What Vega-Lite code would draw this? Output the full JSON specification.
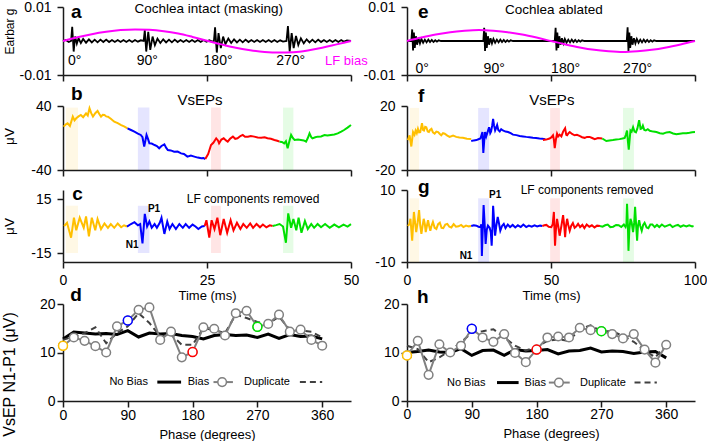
{
"$schema": "https://vega.github.io/schema/vega-lite/v6.json",
"background": "white",
"padding": {"left": 0, "top": 0, "right": 0, "bottom": 0},
"data": {"values": [{"k": 1}]},
"datasets": {
"ea": [{"t":0,"v":0},{"t":0.5,"v":0.0003},{"t":1.0,"v":-0.0003},{"t":1.4,"v":0},{"t":1.6,"v":0.0042},{"t":1.85,"v":-0.0031},{"t":2.1,"v":0.0013},{"t":2.4,"v":-0.0008},{"t":2.7,"v":0.0008},{"t":3.1,"v":-0.0006},{"t":3.5,"v":0.0006},{"t":4.0,"v":-0.0005},{"t":4.5,"v":0.0005},{"t":5.0,"v":-0.0004},{"t":5.5,"v":0.0004},{"t":6.0,"v":-0.0004},{"t":6.5,"v":0.0004},{"t":7.0,"v":-0.0003},{"t":7.5,"v":0.0004},{"t":8.0,"v":-0.0003},{"t":8.5,"v":0.0003},{"t":9.0,"v":-0.0003},{"t":9.5,"v":0.0003},{"t":10.0,"v":-0.0003},{"t":10.5,"v":0.0003},{"t":11.0,"v":-0.0003},{"t":11.5,"v":0.0003},{"t":12.0,"v":-0.0003},{"t":12.5,"v":0.0003},{"t":13.0,"v":-0.0002},{"t":13.5,"v":0.0002},{"t":14.0,"v":0},
{"t":14.2,"v":0.0032},{"t":14.45,"v":-0.0031},{"t":14.8,"v":0.0027},{"t":15.15,"v":-0.0026},{"t":15.55,"v":0.0013},{"t":15.95,"v":-0.0012},{"t":16.4,"v":0.0007},{"t":16.9,"v":-0.0006},{"t":17.4,"v":0.0005},{"t":17.9,"v":-0.0004},{"t":18.4,"v":0.0004},{"t":18.9,"v":-0.0004},{"t":19.4,"v":0.0004},{"t":19.9,"v":-0.0003},{"t":20.4,"v":0.0003},{"t":20.9,"v":-0.0003},{"t":21.4,"v":0.0003},{"t":21.9,"v":-0.0003},{"t":22.4,"v":0.0003},{"t":22.9,"v":-0.0003},{"t":23.4,"v":0.0003},{"t":23.9,"v":-0.0003},{"t":24.4,"v":0.0003},{"t":24.9,"v":-0.0002},{"t":25.4,"v":0.0002},{"t":25.9,"v":-0.0002},{"t":26.2,"v":0},
{"t":26.4,"v":0.004},{"t":26.7,"v":-0.0034},{"t":27.0,"v":0.0023},{"t":27.4,"v":-0.0021},{"t":27.8,"v":0.0013},{"t":28.2,"v":-0.0009},{"t":28.7,"v":0.0007},{"t":29.2,"v":-0.0006},{"t":29.7,"v":0.0005},{"t":30.2,"v":-0.0004},{"t":30.7,"v":0.0004},{"t":31.2,"v":-0.0004},{"t":31.7,"v":0.0004},{"t":32.2,"v":-0.0003},{"t":32.7,"v":0.0003},{"t":33.2,"v":-0.0003},{"t":33.7,"v":0.0003},{"t":34.2,"v":-0.0003},{"t":34.7,"v":0.0003},{"t":35.2,"v":-0.0003},{"t":35.7,"v":0.0003},{"t":36.2,"v":-0.0003},{"t":36.7,"v":0.0003},{"t":37.2,"v":-0.0003},{"t":37.7,"v":0.0002},{"t":38.2,"v":-0.0002},{"t":38.8,"v":0},
{"t":39.05,"v":0.0044},{"t":39.35,"v":-0.0031},{"t":39.7,"v":0.0023},{"t":40.05,"v":-0.0021},{"t":40.45,"v":0.0015},{"t":40.85,"v":-0.0012},{"t":41.3,"v":0.0008},{"t":41.8,"v":-0.0007},{"t":42.3,"v":0.0005},{"t":42.8,"v":-0.0004},{"t":43.3,"v":0.0004},{"t":43.8,"v":-0.0004},{"t":44.3,"v":0.0004},{"t":44.8,"v":-0.0003},{"t":45.3,"v":0.0003},{"t":45.8,"v":-0.0003},{"t":46.3,"v":0.0003},{"t":46.8,"v":-0.0003},{"t":47.3,"v":0.0003},{"t":47.8,"v":-0.0003},{"t":48.3,"v":0.0003},{"t":48.8,"v":-0.0002},{"t":49.3,"v":0.0002},{"t":50,"v":0}],
"ee": [{"t":0,"v":0},{"t":1.5,"v":0},{"t":1.8,"v":0.0034},{"t":2.1,"v":-0.0028},{"t":2.4,"v":0.0025},{"t":2.7,"v":-0.002},{"t":3.1,"v":0.0014},{"t":3.5,"v":-0.0011},{"t":4.0,"v":0.0008},{"t":4.5,"v":-0.0007},{"t":5.0,"v":0.0006},{"t":5.6,"v":-0.0005},{"t":6.2,"v":0.0004},{"t":6.8,"v":-0.0004},{"t":7.4,"v":0.0004},{"t":8.0,"v":-0.0003},{"t":8.6,"v":0.0003},{"t":9.2,"v":-0.0003},{"t":9.8,"v":0.0002},{"t":10.4,"v":-0.0002},{"t":11.0,"v":0.0002},{"t":11.8,"v":0},
{"t":26.5,"v":0},{"t":26.8,"v":0.0039},{"t":27.1,"v":-0.0029},{"t":27.4,"v":0.0025},{"t":27.7,"v":-0.002},{"t":28.1,"v":0.0014},{"t":28.5,"v":-0.0011},{"t":29.0,"v":0.0008},{"t":29.5,"v":-0.0007},{"t":30.0,"v":0.0006},{"t":30.6,"v":-0.0005},{"t":31.2,"v":0.0004},{"t":31.8,"v":-0.0004},{"t":32.4,"v":0.0004},{"t":33.0,"v":-0.0003},{"t":33.6,"v":0.0003},{"t":34.2,"v":-0.0003},{"t":34.8,"v":0.0002},{"t":35.4,"v":-0.0002},{"t":36.0,"v":0.0002},{"t":36.8,"v":0},
{"t":51.3,"v":0},{"t":51.6,"v":0.0039},{"t":51.9,"v":-0.0028},{"t":52.2,"v":0.0025},{"t":52.5,"v":-0.002},{"t":52.9,"v":0.0014},{"t":53.3,"v":-0.0011},{"t":53.8,"v":0.0008},{"t":54.3,"v":-0.0007},{"t":54.8,"v":0.0006},{"t":55.4,"v":-0.0005},{"t":56.0,"v":0.0004},{"t":56.6,"v":-0.0004},{"t":57.2,"v":0.0004},{"t":57.8,"v":-0.0003},{"t":58.4,"v":0.0003},{"t":59.0,"v":-0.0003},{"t":59.6,"v":0.0002},{"t":60.2,"v":-0.0002},{"t":60.8,"v":0.0002},{"t":61.6,"v":0},
{"t":76.3,"v":0},{"t":76.6,"v":0.004},{"t":76.9,"v":-0.003},{"t":77.2,"v":0.0025},{"t":77.5,"v":-0.002},{"t":77.9,"v":0.0014},{"t":78.3,"v":-0.0011},{"t":78.8,"v":0.0008},{"t":79.3,"v":-0.0007},{"t":79.8,"v":0.0006},{"t":80.4,"v":-0.0005},{"t":81.0,"v":0.0004},{"t":81.6,"v":-0.0004},{"t":82.2,"v":0.0004},{"t":82.8,"v":-0.0003},{"t":83.4,"v":0.0003},{"t":84.0,"v":-0.0003},{"t":84.6,"v":0.0002},{"t":85.2,"v":-0.0002},{"t":85.8,"v":0.0002},{"t":86.6,"v":0},{"t":100,"v":0}],
"sa": [{"t":0,"v":0},{"t":2.5,"v":0.0011},{"t":5,"v":0.002},{"t":7.5,"v":0.0027},{"t":10,"v":0.0032},{"t":12.5,"v":0.0034},{"t":15,"v":0.0033},{"t":17.5,"v":0.0029},{"t":20,"v":0.0022},{"t":22.5,"v":0.0012},{"t":25,"v":0.0001},{"t":27.5,"v":-0.001},{"t":30,"v":-0.002},{"t":32.5,"v":-0.0027},{"t":35,"v":-0.0032},{"t":37.5,"v":-0.0034},{"t":40,"v":-0.0033},{"t":42.5,"v":-0.0028},{"t":45,"v":-0.002},{"t":47.5,"v":-0.001},{"t":50,"v":0}],
"se": [{"t":0,"v":0},{"t":5,"v":0.001},{"t":10,"v":0.0019},{"t":15,"v":0.0026},{"t":20,"v":0.003},{"t":25,"v":0.0032},{"t":30,"v":0.003},{"t":35,"v":0.0026},{"t":40,"v":0.0019},{"t":45,"v":0.001},{"t":50,"v":0},{"t":55,"v":-0.001},{"t":60,"v":-0.0019},{"t":65,"v":-0.0026},{"t":70,"v":-0.003},{"t":75,"v":-0.0032},{"t":80,"v":-0.003},{"t":85,"v":-0.0026},{"t":90,"v":-0.0019},{"t":95,"v":-0.001},{"t":100,"v":0}],
"dga": [{"t":1.5,"lab":"0°"},{"t":14.1,"lab":"90°"},{"t":26.4,"lab":"180°"},{"t":39,"lab":"270°"}],
"dge": [{"t":1.8,"lab":"0°"},{"t":26.8,"lab":"90°"},{"t":51.6,"lab":"180°"},{"t":76.6,"lab":"270°"}],
"bl": [{"t1":0.5,"t2":2.6,"s":"o"},{"t1":13,"t2":15,"s":"b"},{"t1":25.7,"t2":27.4,"s":"r"},{"t1":38.2,"t2":40,"s":"g"}],
"br": [{"t1":1,"t2":4.2,"s":"o"},{"t1":24.7,"t2":28.5,"s":"b"},{"t1":49.7,"t2":53.1,"s":"r"},{"t1":75,"t2":78.8,"s":"g"}],
"wb": [{"s":"o","t":0.1,"v":14.2},{"s":"o","t":0.5,"v":17},{"s":"o","t":0.8,"v":18.3},{"s":"o","t":1.2,"v":15},{"s":"o","t":1.7,"v":26.7},{"s":"o","t":2.0,"v":22},{"s":"o","t":2.3,"v":24.6},{"s":"o","t":2.7,"v":27},{"s":"o","t":3.1,"v":28.8},{"s":"o","t":3.5,"v":26},{"s":"o","t":4.0,"v":30.8},{"s":"o","t":4.3,"v":28},{"s":"o","t":4.6,"v":37.1},{"s":"o","t":4.9,"v":31},{"s":"o","t":5.2,"v":26.7},{"s":"o","t":5.6,"v":31},{"s":"o","t":6.0,"v":33.8},{"s":"o","t":6.3,"v":30},{"s":"o","t":6.6,"v":26.7},{"s":"o","t":6.9,"v":29},{"s":"o","t":7.2,"v":28.8},{"s":"o","t":7.5,"v":27},{"s":"o","t":7.8,"v":26.7},{"s":"o","t":8.3,"v":24},{"s":"o","t":8.9,"v":20.4},{"s":"o","t":9.5,"v":18.5},{"s":"o","t":10.1,"v":16.2},{"s":"o","t":10.6,"v":14.5},{"s":"o","t":11.2,"v":12.1},
{"s":"b","t":11.2,"v":12.1},{"s":"b","t":11.8,"v":10},{"s":"b","t":12.4,"v":7.9},{"s":"b","t":13.0,"v":5.5},{"s":"b","t":13.5,"v":3.8},{"s":"b","t":13.8,"v":1},{"s":"b","t":14.1,"v":-10.8},{"s":"b","t":14.5,"v":3.8},{"s":"b","t":14.8,"v":-2},{"s":"b","t":15.0,"v":-6.7},{"s":"b","t":15.4,"v":-7},{"s":"b","t":15.9,"v":-8.8},{"s":"b","t":16.3,"v":-10},{"s":"b","t":16.7,"v":-12.9},{"s":"b","t":17.1,"v":-10},{"s":"b","t":17.6,"v":-7.9},{"s":"b","t":17.9,"v":-12},{"s":"b","t":18.2,"v":-15},{"s":"b","t":18.7,"v":-15.5},{"s":"b","t":19.3,"v":-17.1},{"s":"b","t":19.9,"v":-17},{"s":"b","t":20.5,"v":-19.2},{"s":"b","t":21.0,"v":-20},{"s":"b","t":21.6,"v":-23.3},{"s":"b","t":22.2,"v":-22},{"s":"b","t":22.8,"v":-23.3},{"s":"b","t":23.4,"v":-24.5},{"s":"b","t":24.0,"v":-25.4},{"s":"b","t":24.4,"v":-25},{"s":"b","t":24.7,"v":-26.3},
{"s":"r","t":24.7,"v":-26.3},{"s":"r","t":25.2,"v":-20},{"s":"r","t":25.7,"v":-8.8},{"s":"r","t":26.1,"v":-6},{"s":"r","t":26.6,"v":-0.4},{"s":"r","t":26.9,"v":-3},{"s":"r","t":27.1,"v":-6.7},{"s":"r","t":27.5,"v":-2},{"s":"r","t":27.9,"v":-0.4},{"s":"r","t":28.3,"v":-3},{"s":"r","t":28.6,"v":-4.6},{"s":"r","t":29.0,"v":-1},{"s":"r","t":29.5,"v":1.7},{"s":"r","t":29.9,"v":-1},{"s":"r","t":30.3,"v":-0.4},{"s":"r","t":30.8,"v":2.5},{"s":"r","t":31.2,"v":3.8},{"s":"r","t":31.6,"v":1.5},{"s":"r","t":32.1,"v":1.7},{"s":"r","t":32.6,"v":2.5},{"s":"r","t":33.2,"v":1.7},{"s":"r","t":33.8,"v":0.6},{"s":"r","t":34.4,"v":0.4},{"s":"r","t":35.0,"v":0.8},{"s":"r","t":35.5,"v":-0.4},{"s":"r","t":36.1,"v":-1},{"s":"r","t":36.7,"v":-2.5},{"s":"r","t":37.2,"v":-3.5},{"s":"r","t":37.6,"v":-4.6},
{"s":"g","t":37.6,"v":-4.6},{"s":"g","t":38.0,"v":-5},{"s":"g","t":38.4,"v":-6.7},{"s":"g","t":38.7,"v":-4},{"s":"g","t":39.0,"v":-12.9},{"s":"g","t":39.3,"v":-4},{"s":"g","t":39.6,"v":3.8},{"s":"g","t":39.9,"v":0},{"s":"g","t":40.2,"v":-2.5},{"s":"g","t":40.8,"v":-2},{"s":"g","t":41.3,"v":-2.5},{"s":"g","t":41.8,"v":-3},{"s":"g","t":42.2,"v":-4.6},{"s":"g","t":42.5,"v":0},{"s":"g","t":42.8,"v":5.8},{"s":"g","t":43.1,"v":1},{"s":"g","t":43.3,"v":-0.4},{"s":"g","t":43.8,"v":1},{"s":"g","t":44.2,"v":1.7},{"s":"g","t":44.8,"v":2},{"s":"g","t":45.4,"v":3.8},{"s":"g","t":45.9,"v":3},{"s":"g","t":46.5,"v":3.8},{"s":"g","t":47.1,"v":4.5},{"s":"g","t":47.7,"v":5.8},{"s":"g","t":48.3,"v":8},{"s":"g","t":48.8,"v":10},{"s":"g","t":49.4,"v":13},{"s":"g","t":50,"v":16.2}],
"wc": [{"s":"o","t":0.2,"v":0},{"s":"o","t":0.7,"v":1.8},{"s":"o","t":1.4,"v":-6.5},{"s":"o","t":1.9,"v":4.6},{"s":"o","t":2.3,"v":-2.4},{"s":"o","t":2.9,"v":4.6},{"s":"o","t":3.6,"v":-1},{"s":"o","t":4.0,"v":5.3},{"s":"o","t":4.5,"v":-5.8},{"s":"o","t":5.0,"v":4.6},{"s":"o","t":5.6,"v":-2.4},{"s":"o","t":6.0,"v":3.9},{"s":"o","t":6.6,"v":-1.7},{"s":"o","t":7.2,"v":1.4},{"s":"o","t":7.8,"v":-1},{"s":"o","t":8.3,"v":1.1},{"s":"o","t":8.9,"v":-1},{"s":"o","t":9.5,"v":1.4},{"s":"o","t":10.1,"v":-0.7},{"s":"o","t":10.6,"v":0.4},{"s":"o","t":11.1,"v":-0.3},
{"s":"b","t":11.1,"v":-0.3},{"s":"b","t":11.8,"v":1.1},{"s":"b","t":12.4,"v":2.1},{"s":"b","t":13.0,"v":0.4},{"s":"b","t":13.4,"v":1.1},{"s":"b","t":13.8,"v":-9.7},{"s":"b","t":14.2,"v":6.7},{"s":"b","t":14.6,"v":-0.3},{"s":"b","t":15.0,"v":2.5},{"s":"b","t":15.4,"v":-1},{"s":"b","t":15.9,"v":1.1},{"s":"b","t":16.3,"v":-1},{"s":"b","t":16.8,"v":1.8},{"s":"b","t":17.1,"v":4.6},{"s":"b","t":17.6,"v":-4.4},{"s":"b","t":18.1,"v":2.5},{"s":"b","t":18.5,"v":-1.7},{"s":"b","t":19.0,"v":1.1},{"s":"b","t":19.6,"v":-1.7},{"s":"b","t":20.2,"v":1.1},{"s":"b","t":20.8,"v":-1},{"s":"b","t":21.3,"v":1.1},{"s":"b","t":21.9,"v":-1},{"s":"b","t":22.5,"v":0.8},{"s":"b","t":23.0,"v":-0.3},{"s":"b","t":23.5,"v":-1.7},{"s":"b","t":24.1,"v":-0.3},{"s":"b","t":24.6,"v":0},
{"s":"r","t":24.6,"v":0},{"s":"r","t":24.9,"v":3.2},{"s":"r","t":25.4,"v":-6.5},{"s":"r","t":25.8,"v":3.2},{"s":"r","t":26.3,"v":-1.7},{"s":"r","t":26.8,"v":4.6},{"s":"r","t":27.3,"v":-5.1},{"s":"r","t":27.9,"v":3.9},{"s":"r","t":28.5,"v":-3.8},{"s":"r","t":29.1,"v":3.2},{"s":"r","t":29.6,"v":-2.4},{"s":"r","t":30.2,"v":1.8},{"s":"r","t":30.8,"v":-1.7},{"s":"r","t":31.3,"v":1.1},{"s":"r","t":31.9,"v":-1},{"s":"r","t":32.5,"v":1.4},{"s":"r","t":33.0,"v":-1},{"s":"r","t":33.6,"v":1.1},{"s":"r","t":34.2,"v":-0.7},{"s":"r","t":34.7,"v":0.8},{"s":"r","t":35.3,"v":-0.7},{"s":"r","t":35.9,"v":0.4},{"s":"r","t":36.4,"v":0},
{"s":"g","t":36.4,"v":0},{"s":"g","t":37.0,"v":0.5},{"s":"g","t":37.6,"v":1.1},{"s":"g","t":38.2,"v":-0.3},{"s":"g","t":38.7,"v":-9.3},{"s":"g","t":39.1,"v":7.0},{"s":"g","t":39.6,"v":-1},{"s":"g","t":40.0,"v":3.9},{"s":"g","t":40.5,"v":-2.4},{"s":"g","t":40.9,"v":4.6},{"s":"g","t":41.4,"v":-3.8},{"s":"g","t":42.0,"v":2.8},{"s":"g","t":42.5,"v":-1.7},{"s":"g","t":43.1,"v":1.1},{"s":"g","t":43.6,"v":-1},{"s":"g","t":44.2,"v":1.1},{"s":"g","t":44.8,"v":-0.7},{"s":"g","t":45.5,"v":1.1},{"s":"g","t":46.3,"v":-1},{"s":"g","t":47.1,"v":0.8},{"s":"g","t":47.9,"v":-0.7},{"s":"g","t":48.7,"v":0.8},{"s":"g","t":49.4,"v":-0.3},{"s":"g","t":50,"v":1}],
"wf": [{"s":"o","t":0.3,"v":-1.3},{"s":"o","t":0.9,"v":1.7},{"s":"o","t":1.5,"v":-5.3},{"s":"o","t":2.1,"v":3.7},{"s":"o","t":2.6,"v":2},{"s":"o","t":3.0,"v":4.7},{"s":"o","t":3.4,"v":3},{"s":"o","t":3.8,"v":5.7},{"s":"o","t":4.2,"v":3.5},{"s":"o","t":4.6,"v":3.7},{"s":"o","t":5.2,"v":9.3},{"s":"o","t":5.6,"v":5},{"s":"o","t":5.9,"v":4.7},{"s":"o","t":6.3,"v":7},{"s":"o","t":6.7,"v":6.7},{"s":"o","t":7.2,"v":4},{"s":"o","t":7.6,"v":3.7},{"s":"o","t":8.0,"v":5},{"s":"o","t":8.5,"v":5.7},{"s":"o","t":9.0,"v":3.5},{"s":"o","t":9.6,"v":2.7},{"s":"o","t":10.2,"v":4},{"s":"o","t":10.8,"v":3.7},{"s":"o","t":11.4,"v":2.5},{"s":"o","t":11.9,"v":1.7},{"s":"o","t":12.5,"v":3},{"s":"o","t":13.1,"v":2.7},{"s":"o","t":14.0,"v":1.5},{"s":"o","t":14.8,"v":0.7},{"s":"o","t":16,"v":1.5},{"s":"o","t":17.1,"v":0.7},{"s":"o","t":18.2,"v":0.3},{"s":"o","t":19.4,"v":0.1},{"s":"o","t":20.8,"v":-0.5},{"s":"o","t":22.3,"v":-0.7},
{"s":"b","t":22.3,"v":-1.9},{"s":"b","t":23.2,"v":-1.5},{"s":"b","t":24.1,"v":-1.3},{"s":"b","t":24.8,"v":-0.8},{"s":"b","t":25.5,"v":-0.3},{"s":"b","t":26.2,"v":3.7},{"s":"b","t":26.5,"v":-9.3},{"s":"b","t":26.8,"v":-2},{"s":"b","t":27.1,"v":3.7},{"s":"b","t":27.5,"v":1},{"s":"b","t":27.8,"v":2.7},{"s":"b","t":28.2,"v":5},{"s":"b","t":28.5,"v":6.7},{"s":"b","t":28.9,"v":3},{"s":"b","t":29.2,"v":4.1},{"s":"b","t":29.6,"v":8},{"s":"b","t":29.9,"v":12},{"s":"b","t":30.2,"v":8},{"s":"b","t":30.6,"v":4.7},{"s":"b","t":30.9,"v":6},{"s":"b","t":31.3,"v":8.1},{"s":"b","t":31.7,"v":5},{"s":"b","t":32.2,"v":4.1},{"s":"b","t":32.7,"v":5.5},{"s":"b","t":33.3,"v":4.7},{"s":"b","t":34.2,"v":4},{"s":"b","t":35.1,"v":3.7},{"s":"b","t":36,"v":3},{"s":"b","t":36.8,"v":2.1},{"s":"b","t":38,"v":1.8},{"s":"b","t":39.1,"v":1.3},{"s":"b","t":40.3,"v":1},{"s":"b","t":41.4,"v":0.7},{"s":"b","t":42.5,"v":0.5},{"s":"b","t":43.7,"v":0.1},{"s":"b","t":44.8,"v":0},{"s":"b","t":46.0,"v":-0.3},{"s":"b","t":47,"v":-0.5},{"s":"b","t":48,"v":-0.7},
{"s":"r","t":47.2,"v":-1.3},{"s":"r","t":48.3,"v":-1},{"s":"r","t":49.5,"v":-0.3},{"s":"r","t":50.2,"v":0.5},{"s":"r","t":50.7,"v":1.7},{"s":"r","t":51.0,"v":-1},{"s":"r","t":51.3,"v":-6.3},{"s":"r","t":51.7,"v":-1},{"s":"r","t":52.1,"v":2.7},{"s":"r","t":52.5,"v":1},{"s":"r","t":53.0,"v":2.1},{"s":"r","t":53.6,"v":1},{"s":"r","t":54.2,"v":4},{"s":"r","t":54.9,"v":6.1},{"s":"r","t":55.3,"v":2},{"s":"r","t":55.6,"v":1.7},{"s":"r","t":56.1,"v":3},{"s":"r","t":56.5,"v":3.7},{"s":"r","t":57.3,"v":2.5},{"s":"r","t":58.2,"v":1.7},{"s":"r","t":59,"v":2},{"s":"r","t":59.9,"v":1.3},{"s":"r","t":60.8,"v":0.5},{"s":"r","t":61.7,"v":0.1},{"s":"r","t":62.5,"v":0.7},{"s":"r","t":63.4,"v":0.7},{"s":"r","t":64.3,"v":0},{"s":"r","t":65.2,"v":-0.7},{"s":"r","t":66.3,"v":0},{"s":"r","t":67.8,"v":-0.3},
{"s":"g","t":67.8,"v":-0.3},{"s":"g","t":69.2,"v":-1.9},{"s":"g","t":70.3,"v":-1.5},{"s":"g","t":71.5,"v":-1.3},{"s":"g","t":72.6,"v":-1},{"s":"g","t":73.8,"v":-0.7},{"s":"g","t":74.8,"v":-0.3},{"s":"g","t":75.6,"v":0.1},{"s":"g","t":76.0,"v":2},{"s":"g","t":76.4,"v":4.7},{"s":"g","t":76.7,"v":-2},{"s":"g","t":77.0,"v":-7.3},{"s":"g","t":77.3,"v":-1},{"s":"g","t":77.6,"v":4.7},{"s":"g","t":78.0,"v":4},{"s":"g","t":78.5,"v":6.7},{"s":"g","t":79.0,"v":4},{"s":"g","t":79.5,"v":3.5},{"s":"g","t":80.0,"v":6},{"s":"g","t":80.6,"v":11.2},{"s":"g","t":81.1,"v":5.7},{"s":"g","t":81.5,"v":6},{"s":"g","t":81.9,"v":7.7},{"s":"g","t":82.4,"v":5},{"s":"g","t":82.9,"v":4.7},{"s":"g","t":83.6,"v":5.5},{"s":"g","t":84.3,"v":4.5},{"s":"g","t":85.5,"v":4},{"s":"g","t":86.6,"v":3.7},{"s":"g","t":87.8,"v":3},{"s":"g","t":88.9,"v":2.7},{"s":"g","t":90.1,"v":3.5},{"s":"g","t":91.2,"v":3.7},{"s":"g","t":92.4,"v":2.8},{"s":"g","t":93.5,"v":2.3},{"s":"g","t":94.7,"v":2.7},{"s":"g","t":95.8,"v":2.9},{"s":"g","t":97,"v":3},{"s":"g","t":98.1,"v":3.3},{"s":"g","t":99,"v":3.6},{"s":"g","t":100,"v":3.7}],
"wg": [{"s":"o","t":0.3,"v":0},{"s":"o","t":0.8,"v":0.5},{"s":"o","t":1.2,"v":2},{"s":"o","t":1.5,"v":-1},{"s":"o","t":1.8,"v":-4.1},{"s":"o","t":2.1,"v":0},{"s":"o","t":2.4,"v":3.9},{"s":"o","t":2.8,"v":1},{"s":"o","t":3.2,"v":-1.7},{"s":"o","t":3.7,"v":1},{"s":"o","t":4.2,"v":4.4},{"s":"o","t":4.6,"v":0},{"s":"o","t":5.0,"v":-2.2},{"s":"o","t":5.4,"v":0},{"s":"o","t":5.8,"v":2},{"s":"o","t":6.2,"v":0.5},{"s":"o","t":6.5,"v":-1.7},{"s":"o","t":6.9,"v":0},{"s":"o","t":7.3,"v":1.6},{"s":"o","t":7.7,"v":0},{"s":"o","t":8.1,"v":-1.3},{"s":"o","t":8.5,"v":0},{"s":"o","t":9.0,"v":1.1},{"s":"o","t":9.6,"v":-0.5},{"s":"o","t":10.2,"v":-0.8},{"s":"o","t":10.8,"v":0.5},{"s":"o","t":11.4,"v":0.9},{"s":"o","t":12.0,"v":-0.5},{"s":"o","t":12.6,"v":-0.6},{"s":"o","t":13.3,"v":0.4},{"s":"o","t":14.0,"v":0.6},{"s":"o","t":14.7,"v":-0.2},{"s":"o","t":15.4,"v":-0.4},{"s":"o","t":16.2,"v":0.5},{"s":"o","t":17.0,"v":-0.2},{"s":"o","t":17.9,"v":-0.1},{"s":"o","t":18.8,"v":0.3},{"s":"o","t":19.6,"v":-0.3},{"s":"o","t":20.5,"v":0.1},{"s":"o","t":21.4,"v":-0.1},{"s":"o","t":22.3,"v":0},
{"s":"b","t":22.3,"v":0},{"s":"b","t":23.2,"v":0.2},{"s":"b","t":24.1,"v":0.1},{"s":"b","t":24.8,"v":-0.2},{"s":"b","t":25.5,"v":-0.3},{"s":"b","t":25.8,"v":0.5},{"s":"b","t":26.0,"v":-8.3},{"s":"b","t":26.3,"v":-1},{"s":"b","t":26.6,"v":5.8},{"s":"b","t":27.0,"v":0},{"s":"b","t":27.3,"v":-5},{"s":"b","t":27.7,"v":-1},{"s":"b","t":28.1,"v":0.1},{"s":"b","t":28.7,"v":-0.5},{"s":"b","t":29.1,"v":-1.7},{"s":"b","t":29.4,"v":-5.5},{"s":"b","t":29.7,"v":0},{"s":"b","t":29.9,"v":5.6},{"s":"b","t":30.2,"v":2},{"s":"b","t":30.6,"v":-2.7},{"s":"b","t":31.0,"v":0},{"s":"b","t":31.5,"v":2.5},{"s":"b","t":32.0,"v":0.5},{"s":"b","t":32.4,"v":-1.3},{"s":"b","t":33.0,"v":0},{"s":"b","t":33.6,"v":0.6},{"s":"b","t":34.2,"v":-0.6},{"s":"b","t":35.0,"v":0.4},{"s":"b","t":35.8,"v":-0.3},{"s":"b","t":36.7,"v":0.3},{"s":"b","t":37.6,"v":-0.4},{"s":"b","t":38.5,"v":0.2},{"s":"b","t":39.5,"v":-0.3},{"s":"b","t":40.4,"v":0.4},{"s":"b","t":41.4,"v":-0.3},{"s":"b","t":42.3,"v":0.1},{"s":"b","t":43.3,"v":-0.2},{"s":"b","t":44.3,"v":0.2},{"s":"b","t":45.2,"v":-0.1},{"s":"b","t":46.2,"v":0.1},{"s":"b","t":47.0,"v":0},
{"s":"r","t":47.0,"v":0},{"s":"r","t":47.7,"v":0.2},{"s":"r","t":48.4,"v":0.3},{"s":"r","t":49.2,"v":-0.2},{"s":"r","t":50.1,"v":-0.3},{"s":"r","t":50.6,"v":0.5},{"s":"r","t":51.0,"v":3.9},{"s":"r","t":51.4,"v":-5.5},{"s":"r","t":51.7,"v":-1},{"s":"r","t":52.1,"v":2},{"s":"r","t":52.5,"v":0},{"s":"r","t":53.0,"v":-2.7},{"s":"r","t":53.6,"v":0},{"s":"r","t":54.2,"v":3},{"s":"r","t":54.6,"v":0},{"s":"r","t":54.9,"v":-3.1},{"s":"r","t":55.2,"v":0},{"s":"r","t":55.6,"v":2},{"s":"r","t":56.0,"v":0.3},{"s":"r","t":56.5,"v":-1.3},{"s":"r","t":57.0,"v":0},{"s":"r","t":57.6,"v":0.8},{"s":"r","t":58.2,"v":-0.5},{"s":"r","t":58.8,"v":-0.1},{"s":"r","t":59.4,"v":0.6},{"s":"r","t":60.1,"v":-0.3},{"s":"r","t":60.9,"v":0.3},{"s":"r","t":61.6,"v":-0.6},{"s":"r","t":62.4,"v":0.4},{"s":"r","t":63.3,"v":-0.2},{"s":"r","t":64.2,"v":0.2},{"s":"r","t":65.1,"v":-0.4},{"s":"r","t":66.0,"v":0.1},{"s":"r","t":67.0,"v":0},
{"s":"g","t":67.0,"v":0},{"s":"g","t":67.9,"v":-0.2},{"s":"g","t":68.8,"v":0.2},{"s":"g","t":69.7,"v":0.4},{"s":"g","t":70.6,"v":-0.3},{"s":"g","t":71.6,"v":-0.2},{"s":"g","t":72.6,"v":0.3},{"s":"g","t":73.5,"v":0.2},{"s":"g","t":74.4,"v":-0.3},{"s":"g","t":75.3,"v":0.4},{"s":"g","t":75.9,"v":-0.3},{"s":"g","t":76.2,"v":0.5},{"s":"g","t":76.4,"v":6.2},{"s":"g","t":76.7,"v":0},{"s":"g","t":76.9,"v":-6.9},{"s":"g","t":77.2,"v":-1},{"s":"g","t":77.6,"v":2},{"s":"g","t":78.0,"v":1},{"s":"g","t":78.5,"v":-1.7},{"s":"g","t":78.9,"v":1},{"s":"g","t":79.2,"v":5.3},{"s":"g","t":79.5,"v":1},{"s":"g","t":79.9,"v":-4.1},{"s":"g","t":80.2,"v":0},{"s":"g","t":80.6,"v":1.6},{"s":"g","t":81.0,"v":0},{"s":"g","t":81.5,"v":-1.3},{"s":"g","t":82.0,"v":0.3},{"s":"g","t":82.5,"v":0.9},{"s":"g","t":83.2,"v":-0.4},{"s":"g","t":83.8,"v":-0.6},{"s":"g","t":84.5,"v":0.4},{"s":"g","t":85.2,"v":0.4},{"s":"g","t":86.0,"v":-0.3},{"s":"g","t":86.8,"v":0.3},{"s":"g","t":87.6,"v":-0.3},{"s":"g","t":88.5,"v":0.4},{"s":"g","t":89.5,"v":-0.2},{"s":"g","t":90.4,"v":0.1},{"s":"g","t":91.3,"v":0.4},{"s":"g","t":92.2,"v":-0.3},{"s":"g","t":93.2,"v":0.1},{"s":"g","t":94.1,"v":0.3},{"s":"g","t":95.0,"v":-0.2},{"s":"g","t":96,"v":0.2},{"s":"g","t":97,"v":-0.1},{"s":"g","t":98,"v":0.2},{"s":"g","t":99,"v":-0.1},{"s":"g","t":99.5,"v":0}],
"pd": [{"p":0,"nb":12.8,"b":11.4,"dup":12.6},{"p":15,"nb":14.2,"b":13.1,"dup":13.3},{"p":30,"nb":14.0,"b":12.4,"dup":14.0},{"p":45,"nb":13.8,"b":11.3,"dup":15.2},{"p":60,"nb":13.9,"b":10.0,"dup":11.9},{"p":75,"nb":13.7,"b":15.4,"dup":14.0},{"p":90,"nb":14.5,"b":16.6,"dup":15.4},{"p":105,"nb":13.2,"b":18.8,"dup":18.1},{"p":120,"nb":14.0,"b":19.3,"dup":16.1},{"p":135,"nb":13.8,"b":12.6,"dup":13.3},{"p":150,"nb":13.9,"b":14.3,"dup":13.7},{"p":165,"nb":13.5,"b":9.0,"dup":11.6},{"p":180,"nb":13.3,"b":10.1,"dup":11.6},{"p":195,"nb":12.8,"b":15.2,"dup":15.0},{"p":210,"nb":13.5,"b":14.9,"dup":14.7},{"p":225,"nb":13.7,"b":13.5,"dup":14.0},{"p":240,"nb":13.5,"b":18.1,"dup":17.8},{"p":255,"nb":13.6,"b":18.6,"dup":17.1},{"p":270,"nb":13.1,"b":15.3,"dup":16.3},{"p":285,"nb":13.8,"b":15.9,"dup":15.9},{"p":300,"nb":12.9,"b":17.8,"dup":17.4},{"p":315,"nb":13.7,"b":14.3,"dup":14.7},{"p":330,"nb":13.3,"b":14.7,"dup":14.5},{"p":345,"nb":13.4,"b":12.6,"dup":14.3},{"p":360,"nb":12.8,"b":11.4,"dup":13.1}],
"ph": [{"p":0,"nb":10.0,"b":9.4,"dup":11.4},{"p":15,"nb":10.2,"b":12.4,"dup":10.7},{"p":30,"nb":10.5,"b":5.4,"dup":8.0},{"p":45,"nb":10.1,"b":11.7,"dup":9.0},{"p":60,"nb":10.0,"b":10.0,"dup":10.4},{"p":75,"nb":10.8,"b":11.4,"dup":12.1},{"p":90,"nb":9.4,"b":14.9,"dup":14.1},{"p":105,"nb":10.4,"b":13.1,"dup":14.4},{"p":120,"nb":10.5,"b":12.2,"dup":14.8},{"p":135,"nb":9.4,"b":13.8,"dup":13.1},{"p":150,"nb":10.6,"b":9.9,"dup":11.4},{"p":165,"nb":10.3,"b":8.0,"dup":10.4},{"p":180,"nb":10.4,"b":10.6,"dup":11.1},{"p":195,"nb":10.6,"b":13.1,"dup":12.4},{"p":210,"nb":9.7,"b":13.3,"dup":12.7},{"p":225,"nb":10.3,"b":13.1,"dup":12.4},{"p":240,"nb":10.4,"b":15.1,"dup":14.8},{"p":255,"nb":10.9,"b":14.6,"dup":15.6},{"p":270,"nb":10.1,"b":14.4,"dup":14.4},{"p":285,"nb":10.3,"b":13.8,"dup":14.4},{"p":300,"nb":10.2,"b":12.9,"dup":13.4},{"p":315,"nb":9.8,"b":13.8,"dup":12.2},{"p":330,"nb":10.1,"b":10.6,"dup":10.4},{"p":345,"nb":10.2,"b":7.9,"dup":9.0},{"p":360,"nb":8.9,"b":11.6,"dup":11.7}],
"hd": [{"p":0,"v":11.4,"s":"o"},{"p":90,"v":16.6,"s":"b"},{"p":180,"v":10.1,"s":"r"},{"p":270,"v":15.3,"s":"g"}],
"hh": [{"p":0,"v":9.4,"s":"o"},{"p":90,"v":14.9,"s":"b"},{"p":180,"v":10.6,"s":"r"},{"p":270,"v":14.4,"s":"g"}]
},
"columns": 2,
"bounds": "flush",
"spacing": {"row": 0, "column": 56},
"concat": [
{"width": 288, "height": 68, "layer": [
 {"data": {"name": "ea"}, "mark": {"type": "line", "color": "#000", "strokeWidth": 1.8},
  "encoding": {"x": {"field": "t", "type": "quantitative", "scale": {"domain": [0, 50]}, "axis": {"values": [0, 25, 50], "labels": false, "title": null}},
   "y": {"field": "v", "type": "quantitative", "scale": {"domain": [-0.01, 0.01]}, "axis": {"values": [-0.01, 0, 0.01], "labelPadding": 6, "format": ".2~f", "labelExpr": "replace(datum.label, '−', '-')", "title": "Earbar g", "titleFontSize": 12, "titleX": -54, "titleY": 24, "titleBaseline": "middle"}}}},
 {"data": {"name": "sa"}, "mark": {"type": "line", "color": "#FF00FF", "strokeWidth": 2, "interpolate": "monotone"},
  "encoding": {"x": {"field": "t", "type": "quantitative"}, "y": {"field": "v", "type": "quantitative"}}},
 {"data": {"name": "dga"}, "mark": {"type": "text", "fontSize": 14, "dx": 3},
  "encoding": {"x": {"field": "t", "type": "quantitative"}, "y": {"datum": -0.006}, "text": {"field": "lab"}}},
 {"mark": {"type": "text", "text": "LF bias", "color": "#FF00FF", "fontSize": 13, "align": "left"}, "encoding": {"x": {"datum": 45.5}, "y": {"datum": -0.0059}}},
 {"mark": {"type": "text", "text": "a", "fontSize": 19, "fontWeight": "bold", "align": "left", "baseline": "alphabetic"}, "encoding": {"x": {"datum": 1.4}, "y": {"datum": 0.0068}}},
 {"mark": {"type": "text", "text": "Cochlea intact (masking)", "fontSize": 13.5, "baseline": "alphabetic"}, "encoding": {"x": {"datum": 25.3}, "y": {"datum": 0.0081}}}
]},
{"width": 288, "height": 68, "layer": [
 {"data": {"name": "ee"}, "mark": {"type": "line", "color": "#000", "strokeWidth": 1.8},
  "encoding": {"x": {"field": "t", "type": "quantitative", "scale": {"domain": [0, 100]}, "axis": {"values": [0, 50, 100], "labels": false, "title": null}},
   "y": {"field": "v", "type": "quantitative", "scale": {"domain": [-0.01, 0.01]}, "axis": {"values": [-0.01, 0.01], "labelPadding": 6, "format": ".2~f", "labelExpr": "replace(datum.label, '−', '-')", "title": null}}}},
 {"data": {"name": "se"}, "mark": {"type": "line", "color": "#FF00FF", "strokeWidth": 2, "interpolate": "monotone"},
  "encoding": {"x": {"field": "t", "type": "quantitative"}, "y": {"field": "v", "type": "quantitative"}}},
 {"data": {"name": "dge"}, "mark": {"type": "text", "fontSize": 14, "dx": 10},
  "encoding": {"x": {"field": "t", "type": "quantitative"}, "y": {"datum": -0.0081}, "text": {"field": "lab"}}},
 {"mark": {"type": "text", "text": "e", "fontSize": 19, "fontWeight": "bold", "align": "left", "baseline": "alphabetic"}, "encoding": {"x": {"datum": 3.8}, "y": {"datum": 0.0069}}},
 {"mark": {"type": "text", "text": "Cochlea ablated", "fontSize": 13.5, "baseline": "alphabetic"}, "encoding": {"x": {"datum": 51}, "y": {"datum": 0.0079}}}
]},
{"width": 288, "height": 31, "mark": {"type": "point", "opacity": 0}},
{"width": 288, "height": 31, "mark": {"type": "point", "opacity": 0}},
{"width": 288, "height": 64, "layer": [
 {"data": {"name": "bl"}, "mark": {"type": "rect", "opacity": 0.1},
  "encoding": {"x": {"field": "t1", "type": "quantitative", "scale": {"domain": [0, 50]}}, "x2": {"field": "t2"},
   "y": {"datum": -40, "scale": {"domain": [-40, 40]}}, "y2": {"datum": 38},
   "color": {"field": "s", "type": "nominal", "scale": {"domain": ["o","b","r","g"], "range": ["#FFBF00","#0000FF","#FF0000","#00E000"]}, "legend": null}}},
 {"data": {"name": "wb"}, "mark": {"type": "line", "strokeWidth": 2},
  "encoding": {"x": {"field": "t", "type": "quantitative", "scale": {"domain": [0, 50]}, "axis": {"values": [0, 25, 50], "labels": false, "title": null}},
   "y": {"field": "v", "type": "quantitative", "scale": {"domain": [-40, 40]}, "axis": {"values": [-40, 40], "labelPadding": 6, "labelExpr": "replace(datum.label, '−', '-')", "title": "μV", "titleFontSize": 13.5, "titleX": -54, "titleY": 30, "titleBaseline": "middle"}},
   "color": {"field": "s", "type": "nominal", "scale": {"domain": ["o","b","r","g"], "range": ["#FFBF00","#0000FF","#FF0000","#00E000"]}, "legend": null}}},
 {"mark": {"type": "text", "text": "b", "fontSize": 19, "fontWeight": "bold", "align": "left", "baseline": "alphabetic"}, "encoding": {"x": {"datum": 1.4}, "y": {"datum": 47.5}}},
 {"mark": {"type": "text", "text": "VsEPs", "fontSize": 15, "baseline": "alphabetic"}, "encoding": {"x": {"datum": 23.8}, "y": {"datum": 41.5}}}
]},
{"width": 288, "height": 64, "layer": [
 {"data": {"name": "br"}, "mark": {"type": "rect", "opacity": 0.1},
  "encoding": {"x": {"field": "t1", "type": "quantitative", "scale": {"domain": [0, 100]}}, "x2": {"field": "t2"},
   "y": {"datum": -20, "scale": {"domain": [-20, 20]}}, "y2": {"datum": 18.8},
   "color": {"field": "s", "type": "nominal", "scale": {"domain": ["o","b","r","g"], "range": ["#FFBF00","#0000FF","#FF0000","#00E000"]}, "legend": null}}},
 {"data": {"name": "wf"}, "mark": {"type": "line", "strokeWidth": 2},
  "encoding": {"x": {"field": "t", "type": "quantitative", "scale": {"domain": [0, 100]}, "axis": {"values": [0, 50, 100], "labels": false, "title": null}},
   "y": {"field": "v", "type": "quantitative", "scale": {"domain": [-20, 20]}, "axis": {"values": [-20, 20], "labelPadding": 6, "labelExpr": "replace(datum.label, '−', '-')", "title": null}},
   "color": {"field": "s", "type": "nominal", "scale": {"domain": ["o","b","r","g"], "range": ["#FFBF00","#0000FF","#FF0000","#00E000"]}, "legend": null}}},
 {"mark": {"type": "text", "text": "f", "fontSize": 19, "fontWeight": "bold", "align": "left", "baseline": "alphabetic"}, "encoding": {"x": {"datum": 3.8}, "y": {"datum": 22.4}}},
 {"mark": {"type": "text", "text": "VsEPs", "fontSize": 15, "baseline": "alphabetic"}, "encoding": {"x": {"datum": 50.3}, "y": {"datum": 20.4}}}
]},
{"width": 288, "height": 20, "mark": {"type": "point", "opacity": 0}},
{"width": 288, "height": 20, "mark": {"type": "point", "opacity": 0}},
{"width": 288, "height": 72, "layer": [
 {"data": {"name": "bl"}, "mark": {"type": "rect", "opacity": 0.1},
  "encoding": {"x": {"field": "t1", "type": "quantitative", "scale": {"domain": [0, 50]}}, "x2": {"field": "t2"},
   "y": {"datum": -15, "scale": {"domain": [-15, 15]}}, "y2": {"datum": 11.3},
   "color": {"field": "s", "type": "nominal", "scale": {"domain": ["o","b","r","g"], "range": ["#FFBF00","#0000FF","#FF0000","#00E000"]}, "legend": null}}},
 {"data": {"name": "wc"}, "mark": {"type": "line", "strokeWidth": 2},
  "encoding": {"x": {"field": "t", "type": "quantitative", "scale": {"domain": [0, 50]}, "axis": {"values": [0, 25, 50], "labelPadding": 5, "title": "Time (ms)", "titleFontSize": 13, "titlePadding": 2}},
   "y": {"field": "v", "type": "quantitative", "scale": {"domain": [-15, 15]}, "axis": {"values": [-15, 15], "labelPadding": 6, "labelExpr": "replace(datum.label, '−', '-')", "title": "μV", "titleFontSize": 13.5, "titleX": -54, "titleY": 36, "titleBaseline": "middle"}},
   "color": {"field": "s", "type": "nominal", "scale": {"domain": ["o","b","r","g"], "range": ["#FFBF00","#0000FF","#FF0000","#00E000"]}, "legend": null}}},
 {"mark": {"type": "text", "text": "c", "fontSize": 19, "fontWeight": "bold", "align": "left", "baseline": "alphabetic"}, "encoding": {"x": {"datum": 1.6}, "y": {"datum": 14.4}}},
 {"mark": {"type": "text", "text": "LF components removed", "fontSize": 12, "baseline": "alphabetic"}, "encoding": {"x": {"datum": 33}, "y": {"datum": 12.9}}},
 {"mark": {"type": "text", "text": "P1", "fontSize": 10, "fontWeight": "bold"}, "encoding": {"x": {"datum": 15.8}, "y": {"datum": 9.6}}},
 {"mark": {"type": "text", "text": "N1", "fontSize": 10, "fontWeight": "bold"}, "encoding": {"x": {"datum": 12.0}, "y": {"datum": -10.8}}}
]},
{"width": 288, "height": 72, "layer": [
 {"data": {"name": "br"}, "mark": {"type": "rect", "opacity": 0.1},
  "encoding": {"x": {"field": "t1", "type": "quantitative", "scale": {"domain": [0, 100]}}, "x2": {"field": "t2"},
   "y": {"datum": -10, "scale": {"domain": [-10, 10]}}, "y2": {"datum": 7.7},
   "color": {"field": "s", "type": "nominal", "scale": {"domain": ["o","b","r","g"], "range": ["#FFBF00","#0000FF","#FF0000","#00E000"]}, "legend": null}}},
 {"data": {"name": "wg"}, "mark": {"type": "line", "strokeWidth": 2},
  "encoding": {"x": {"field": "t", "type": "quantitative", "scale": {"domain": [0, 100]}, "axis": {"values": [0, 50, 100], "labelPadding": 5, "title": "Time (ms)", "titleFontSize": 13, "titlePadding": 2}},
   "y": {"field": "v", "type": "quantitative", "scale": {"domain": [-10, 10]}, "axis": {"values": [-10, 10], "labelPadding": 6, "labelExpr": "replace(datum.label, '−', '-')", "title": null}},
   "color": {"field": "s", "type": "nominal", "scale": {"domain": ["o","b","r","g"], "range": ["#FFBF00","#0000FF","#FF0000","#00E000"]}, "legend": null}}},
 {"mark": {"type": "text", "text": "g", "fontSize": 19, "fontWeight": "bold", "align": "left", "baseline": "alphabetic"}, "encoding": {"x": {"datum": 3.8}, "y": {"datum": 9.07}}},
 {"mark": {"type": "text", "text": "LF components removed", "fontSize": 12, "baseline": "alphabetic"}, "encoding": {"x": {"datum": 62.5}, "y": {"datum": 8.87}}},
 {"mark": {"type": "text", "text": "P1", "fontSize": 10, "fontWeight": "bold"}, "encoding": {"x": {"datum": 30.6}, "y": {"datum": 8.6}}},
 {"mark": {"type": "text", "text": "N1", "fontSize": 10, "fontWeight": "bold"}, "encoding": {"x": {"datum": 20.5}, "y": {"datum": -8.3}}}
]},
{"width": 288, "height": 42, "mark": {"type": "point", "opacity": 0}},
{"width": 288, "height": 42, "mark": {"type": "point", "opacity": 0}},
{"width": 288, "height": 97, "layer": [
 {"data": {"name": "pd"}, "mark": {"type": "line", "color": "#000", "strokeWidth": 3},
  "encoding": {"x": {"field": "p", "type": "quantitative", "scale": {"domain": [0, 360]}, "axis": {"values": [0, 90, 180, 270, 360], "labelPadding": 1, "title": "Phase (degrees)", "titleFontSize": 13, "titlePadding": 6}},
   "y": {"field": "nb", "type": "quantitative", "scale": {"domain": [0, 20]}, "axis": {"values": [0, 10, 20], "labelPadding": 2, "title": "VsEP N1-P1 (μV)", "titleFontSize": 16, "titleX": -54, "titleY": 70, "titleBaseline": "middle"}}}},
 {"data": {"name": "pd"}, "mark": {"type": "line", "color": "#404040", "strokeWidth": 2, "strokeDash": [6, 4]},
  "encoding": {"x": {"field": "p", "type": "quantitative"}, "y": {"field": "dup", "type": "quantitative"}}},
 {"data": {"name": "pd"}, "mark": {"type": "line", "color": "#808080", "strokeWidth": 2},
  "encoding": {"x": {"field": "p", "type": "quantitative"}, "y": {"field": "b", "type": "quantitative"}}},
 {"data": {"name": "pd"}, "mark": {"type": "circle", "size": 75, "fill": "white", "stroke": "#808080", "strokeWidth": 1.5, "opacity": 1},
  "encoding": {"x": {"field": "p", "type": "quantitative"}, "y": {"field": "b", "type": "quantitative"}}},
 {"data": {"name": "hd"}, "mark": {"type": "circle", "size": 80, "fill": "white", "strokeWidth": 1.5, "opacity": 1},
  "encoding": {"x": {"field": "p", "type": "quantitative"}, "y": {"field": "v", "type": "quantitative"},
   "stroke": {"field": "s", "type": "nominal", "scale": {"domain": ["o","b","r","g"], "range": ["#FFBF00","#0000FF","#FF0000","#00E000"]}, "legend": null}}},
 {"mark": {"type": "text", "text": "No Bias", "fontSize": 11, "align": "right"}, "encoding": {"x": {"datum": 118}, "y": {"datum": 3.9}}},
 {"mark": {"type": "rule", "color": "#000", "strokeWidth": 3}, "encoding": {"x": {"datum": 131}, "x2": {"datum": 164}, "y": {"datum": 3.9}}},
 {"mark": {"type": "text", "text": "Bias", "fontSize": 11, "align": "right"}, "encoding": {"x": {"datum": 203}, "y": {"datum": 3.9}}},
 {"mark": {"type": "rule", "color": "#808080", "strokeWidth": 2}, "encoding": {"x": {"datum": 209}, "x2": {"datum": 236}, "y": {"datum": 3.9}}},
 {"mark": {"type": "circle", "size": 75, "fill": "white", "stroke": "#808080", "strokeWidth": 1.5, "opacity": 1}, "encoding": {"x": {"datum": 221}, "y": {"datum": 3.9}}},
 {"mark": {"type": "text", "text": "Duplicate", "fontSize": 11, "align": "right"}, "encoding": {"x": {"datum": 315}, "y": {"datum": 3.9}}},
 {"mark": {"type": "rule", "color": "#404040", "strokeWidth": 2, "strokeDash": [6, 4]}, "encoding": {"x": {"datum": 329}, "x2": {"datum": 360}, "y": {"datum": 3.9}}},
 {"mark": {"type": "text", "text": "d", "fontSize": 19, "fontWeight": "bold", "align": "left", "baseline": "alphabetic"}, "encoding": {"x": {"datum": 10}, "y": {"datum": 20.7}}}
]},
{"width": 288, "height": 97, "layer": [
 {"data": {"name": "ph"}, "mark": {"type": "line", "color": "#000", "strokeWidth": 3},
  "encoding": {"x": {"field": "p", "type": "quantitative", "scale": {"domain": [0, 360]}, "axis": {"values": [0, 90, 180, 270, 360], "labelPadding": 0, "title": "Phase (degrees)", "titleFontSize": 13, "titlePadding": 6}},
   "y": {"field": "nb", "type": "quantitative", "scale": {"domain": [0, 20]}, "axis": {"values": [0, 10, 20], "labelPadding": 2, "title": null}}}},
 {"data": {"name": "ph"}, "mark": {"type": "line", "color": "#404040", "strokeWidth": 2, "strokeDash": [6, 4]},
  "encoding": {"x": {"field": "p", "type": "quantitative"}, "y": {"field": "dup", "type": "quantitative"}}},
 {"data": {"name": "ph"}, "mark": {"type": "line", "color": "#808080", "strokeWidth": 2},
  "encoding": {"x": {"field": "p", "type": "quantitative"}, "y": {"field": "b", "type": "quantitative"}}},
 {"data": {"name": "ph"}, "mark": {"type": "circle", "size": 75, "fill": "white", "stroke": "#808080", "strokeWidth": 1.5, "opacity": 1},
  "encoding": {"x": {"field": "p", "type": "quantitative"}, "y": {"field": "b", "type": "quantitative"}}},
 {"data": {"name": "hh"}, "mark": {"type": "circle", "size": 80, "fill": "white", "strokeWidth": 1.5, "opacity": 1},
  "encoding": {"x": {"field": "p", "type": "quantitative"}, "y": {"field": "v", "type": "quantitative"},
   "stroke": {"field": "s", "type": "nominal", "scale": {"domain": ["o","b","r","g"], "range": ["#FFBF00","#0000FF","#FF0000","#00E000"]}, "legend": null}}},
 {"mark": {"type": "text", "text": "No Bias", "fontSize": 11, "align": "right"}, "encoding": {"x": {"datum": 109}, "y": {"datum": 3.8}}},
 {"mark": {"type": "rule", "color": "#000", "strokeWidth": 3}, "encoding": {"x": {"datum": 125}, "x2": {"datum": 155}, "y": {"datum": 3.8}}},
 {"mark": {"type": "text", "text": "Bias", "fontSize": 11, "align": "right"}, "encoding": {"x": {"datum": 193}, "y": {"datum": 3.8}}},
 {"mark": {"type": "rule", "color": "#808080", "strokeWidth": 2}, "encoding": {"x": {"datum": 197}, "x2": {"datum": 226}, "y": {"datum": 3.8}}},
 {"mark": {"type": "circle", "size": 75, "fill": "white", "stroke": "#808080", "strokeWidth": 1.5, "opacity": 1}, "encoding": {"x": {"datum": 211}, "y": {"datum": 3.8}}},
 {"mark": {"type": "text", "text": "Duplicate", "fontSize": 11, "align": "right"}, "encoding": {"x": {"datum": 304}, "y": {"datum": 3.8}}},
 {"mark": {"type": "rule", "color": "#404040", "strokeWidth": 2, "strokeDash": [6, 4]}, "encoding": {"x": {"datum": 316}, "x2": {"datum": 347}, "y": {"datum": 3.8}}},
 {"mark": {"type": "text", "text": "h", "fontSize": 19, "fontWeight": "bold", "align": "left", "baseline": "alphabetic"}, "encoding": {"x": {"datum": 13.75}, "y": {"datum": 20.3}}}
]}
],
"config": {
 "view": {"stroke": null},
 "font": "Liberation Sans",
 "axis": {"domainColor": "#1a1a1a", "tickColor": "#1a1a1a", "domainWidth": 1.5, "tickWidth": 1.5, "tickSize": 6, "labelFontSize": 14, "labelColor": "#000", "labelFont": "Liberation Sans", "titleFont": "Liberation Sans", "labelFlush": false, "labelOverlap": false, "grid": false, "titleFontWeight": "normal", "titleColor": "#000", "labelPadding": 4}
}
}
